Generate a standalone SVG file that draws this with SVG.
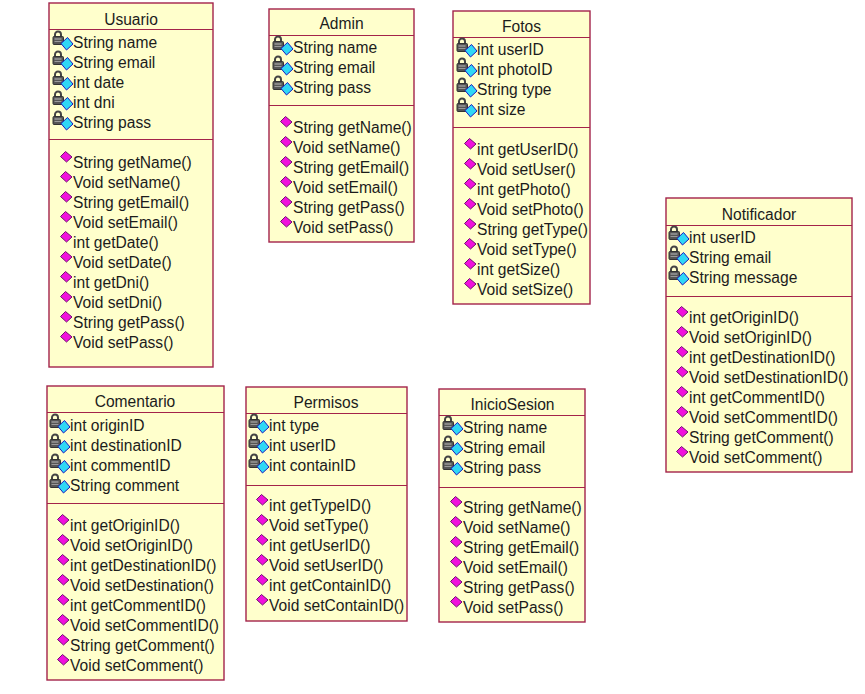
<svg xmlns="http://www.w3.org/2000/svg" width="865" height="694" viewBox="0 0 865 694">
<style>
text{font-family:"Liberation Sans",Arial,sans-serif;font-size:15.6px;fill:#1c1c1c;transform:translateY(.6px)}
.t{text-anchor:middle}
.b{fill:#ffffcc;stroke:#a3234a;stroke-width:1.4}
.d{stroke:#a3234a;stroke-width:1.2}
</style>
<defs>
<g id="a">
<path d="M-18-10.500v-2a2.800 2.800 0 0 1 6 0v2" fill="none" stroke="#444" stroke-width="2"/>
<rect x="-20" y="-10.500" width="10.500" height="8" rx="1" fill="#555" stroke="#333" stroke-width="1"/>
<path d="M-18.500-8h7" stroke="#bbb" stroke-width="1"/>
<path d="M-18.500-5.500h7" stroke="#999" stroke-width="1"/>
<path d="M-5.500-9.500l5.500 6.500l-6.500 6l-5.500-6.500z" fill="#2fd8f5" stroke="#1a1ac0" stroke-width="1"/>
</g>
<path id="m" d="M-7.500-15.500l6.500 5.500l-5.500 5l-6-5.500z" fill="#f010dc" stroke="#701070" stroke-width="1"/>
</defs>
<rect width="865" height="694" fill="#fff"/>
<g id="nodes">
<g id="Usuario">
<rect class="b" x="49" y="3" width="164" height="364"/>
<path class="d" d="M49 29.500H213M49 139.500H213"/>
<text class="t" x="131" y="24">Usuario</text>
<use href="#a" x="73" y="47"/><text x="73" y="47">String name</text>
<use href="#a" x="73" y="67"/><text x="73" y="67">String email</text>
<use href="#a" x="73" y="87"/><text x="73" y="87">int date</text>
<use href="#a" x="73" y="107"/><text x="73" y="107">int dni</text>
<use href="#a" x="73" y="127"/><text x="73" y="127">String pass</text>
<use href="#m" x="73" y="167"/><text x="73" y="167">String getName()</text>
<use href="#m" x="73" y="187"/><text x="73" y="187">Void setName()</text>
<use href="#m" x="73" y="207"/><text x="73" y="207">String getEmail()</text>
<use href="#m" x="73" y="227"/><text x="73" y="227">Void setEmail()</text>
<use href="#m" x="73" y="247"/><text x="73" y="247">int getDate()</text>
<use href="#m" x="73" y="267"/><text x="73" y="267">Void setDate()</text>
<use href="#m" x="73" y="287"/><text x="73" y="287">int getDni()</text>
<use href="#m" x="73" y="307"/><text x="73" y="307">Void setDni()</text>
<use href="#m" x="73" y="327"/><text x="73" y="327">String getPass()</text>
<use href="#m" x="73" y="347"/><text x="73" y="347">Void setPass()</text>
</g>
<g id="Admin">
<rect class="b" x="269" y="9" width="145" height="233"/>
<path class="d" d="M269 35.500H414M269 105.500H414"/>
<text class="t" x="341.500" y="28">Admin</text>
<use href="#a" x="293" y="52"/><text x="293" y="52">String name</text>
<use href="#a" x="293" y="72"/><text x="293" y="72">String email</text>
<use href="#a" x="293" y="92"/><text x="293" y="92">String pass</text>
<use href="#m" x="293" y="132"/><text x="293" y="132">String getName()</text>
<use href="#m" x="293" y="152"/><text x="293" y="152">Void setName()</text>
<use href="#m" x="293" y="172"/><text x="293" y="172">String getEmail()</text>
<use href="#m" x="293" y="192"/><text x="293" y="192">Void setEmail()</text>
<use href="#m" x="293" y="212"/><text x="293" y="212">String getPass()</text>
<use href="#m" x="293" y="232"/><text x="293" y="232">Void setPass()</text>
</g>
<g id="Fotos">
<rect class="b" x="453" y="11" width="137" height="293"/>
<path class="d" d="M453 37.500H590M453 127.500H590"/>
<text class="t" x="521.500" y="31">Fotos</text>
<use href="#a" x="477" y="54"/><text x="477" y="54">int userID</text>
<use href="#a" x="477" y="74"/><text x="477" y="74">int photoID</text>
<use href="#a" x="477" y="94"/><text x="477" y="94">String type</text>
<use href="#a" x="477" y="114"/><text x="477" y="114">int size</text>
<use href="#m" x="477" y="154"/><text x="477" y="154">int getUserID()</text>
<use href="#m" x="477" y="174"/><text x="477" y="174">Void setUser()</text>
<use href="#m" x="477" y="194"/><text x="477" y="194">int getPhoto()</text>
<use href="#m" x="477" y="214"/><text x="477" y="214">Void setPhoto()</text>
<use href="#m" x="477" y="234"/><text x="477" y="234">String getType()</text>
<use href="#m" x="477" y="254"/><text x="477" y="254">Void setType()</text>
<use href="#m" x="477" y="274"/><text x="477" y="274">int getSize()</text>
<use href="#m" x="477" y="294"/><text x="477" y="294">Void setSize()</text>
</g>
<g id="Notificador">
<rect class="b" x="666" y="198" width="186" height="274"/>
<path class="d" d="M666 225.500H852M666 296.500H852"/>
<text class="t" x="759" y="219">Notificador</text>
<use href="#a" x="689" y="242"/><text x="689" y="242">int userID</text>
<use href="#a" x="689" y="262"/><text x="689" y="262">String email</text>
<use href="#a" x="689" y="282"/><text x="689" y="282">String message</text>
<use href="#m" x="689" y="322"/><text x="689" y="322">int getOriginID()</text>
<use href="#m" x="689" y="342"/><text x="689" y="342">Void setOriginID()</text>
<use href="#m" x="689" y="362"/><text x="689" y="362">int getDestinationID()</text>
<use href="#m" x="689" y="382"/><text x="689" y="382">Void setDestinationID()</text>
<use href="#m" x="689" y="402"/><text x="689" y="402">int getCommentID()</text>
<use href="#m" x="689" y="422"/><text x="689" y="422">Void setCommentID()</text>
<use href="#m" x="689" y="442"/><text x="689" y="442">String getComment()</text>
<use href="#m" x="689" y="462"/><text x="689" y="462">Void setComment()</text>
</g>
<g id="Comentario">
<rect class="b" x="47" y="386" width="177" height="294"/>
<path class="d" d="M47 412.500H224M47 503.500H224"/>
<text class="t" x="135" y="406">Comentario</text>
<use href="#a" x="70" y="430"/><text x="70" y="430">int originID</text>
<use href="#a" x="70" y="450"/><text x="70" y="450">int destinationID</text>
<use href="#a" x="70" y="470"/><text x="70" y="470">int commentID</text>
<use href="#a" x="70" y="490"/><text x="70" y="490">String comment</text>
<use href="#m" x="70" y="530"/><text x="70" y="530">int getOriginID()</text>
<use href="#m" x="70" y="550"/><text x="70" y="550">Void setOriginID()</text>
<use href="#m" x="70" y="570"/><text x="70" y="570">int getDestinationID()</text>
<use href="#m" x="70" y="590"/><text x="70" y="590">Void setDestination()</text>
<use href="#m" x="70" y="610"/><text x="70" y="610">int getCommentID()</text>
<use href="#m" x="70" y="630"/><text x="70" y="630">Void setCommentID()</text>
<use href="#m" x="70" y="650"/><text x="70" y="650">String getComment()</text>
<use href="#m" x="70" y="670"/><text x="70" y="670">Void setComment()</text>
</g>
<g id="Permisos">
<rect class="b" x="246" y="387" width="161" height="234"/>
<path class="d" d="M246 413.500H407M246 485.500H407"/>
<text class="t" x="326" y="407">Permisos</text>
<use href="#a" x="269" y="430"/><text x="269" y="430">int type</text>
<use href="#a" x="269" y="450"/><text x="269" y="450">int userID</text>
<use href="#a" x="269" y="470"/><text x="269" y="470">int containID</text>
<use href="#m" x="269" y="510"/><text x="269" y="510">int getTypeID()</text>
<use href="#m" x="269" y="530"/><text x="269" y="530">Void setType()</text>
<use href="#m" x="269" y="550"/><text x="269" y="550">int getUserID()</text>
<use href="#m" x="269" y="570"/><text x="269" y="570">Void setUserID()</text>
<use href="#m" x="269" y="590"/><text x="269" y="590">int getContainID()</text>
<use href="#m" x="269" y="610"/><text x="269" y="610">Void setContainID()</text>
</g>
<g id="InicioSesion">
<rect class="b" x="439" y="389" width="146" height="233"/>
<path class="d" d="M439 415.500H585M439 487.500H585"/>
<text class="t" x="512.500" y="409">InicioSesion</text>
<use href="#a" x="463" y="432"/><text x="463" y="432">String name</text>
<use href="#a" x="463" y="452"/><text x="463" y="452">String email</text>
<use href="#a" x="463" y="472"/><text x="463" y="472">String pass</text>
<use href="#m" x="463" y="512"/><text x="463" y="512">String getName()</text>
<use href="#m" x="463" y="532"/><text x="463" y="532">Void setName()</text>
<use href="#m" x="463" y="552"/><text x="463" y="552">String getEmail()</text>
<use href="#m" x="463" y="572"/><text x="463" y="572">Void setEmail()</text>
<use href="#m" x="463" y="592"/><text x="463" y="592">String getPass()</text>
<use href="#m" x="463" y="612"/><text x="463" y="612">Void setPass()</text>
</g>
</g>
</svg>
